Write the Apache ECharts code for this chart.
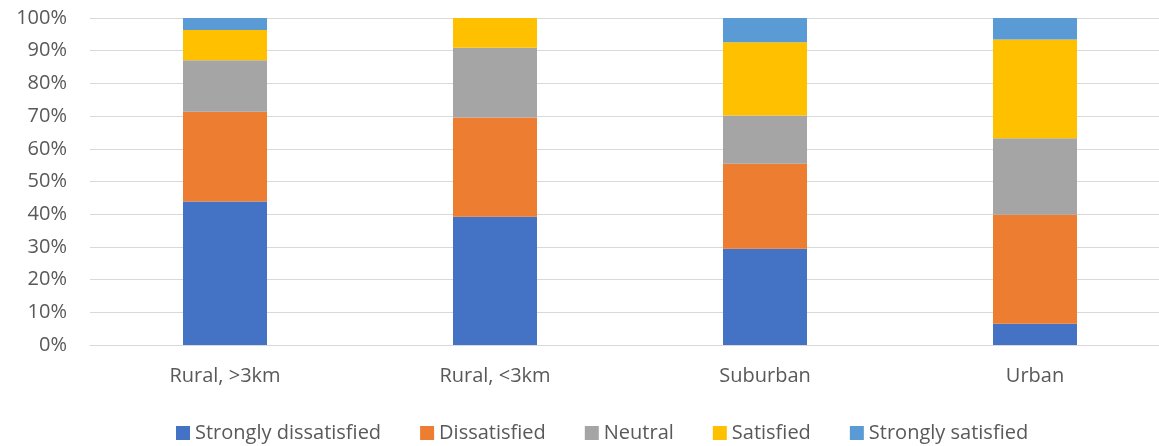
<!DOCTYPE html>
<html>
<head>
<meta charset="utf-8">
<script src="https://cdn.jsdelivr.net/npm/echarts@6/dist/echarts.min.js"></script>
<style>
html,body{margin:0;padding:0;background:#fff;overflow:hidden;}
#chart{width:1171px;height:446px;}
</style>
</head>
<body>
<div id="chart"></div>
<script>
const categories = ['Rural, >3km', 'Rural, <3km', 'Suburban', 'Urban'];
const seriesNames = ['Strongly dissatisfied', 'Dissatisfied', 'Neutral', 'Satisfied', 'Strongly satisfied'];
const stronglyDissatisfied = [43.9, 39.2, 29.4, 6.5];
const dissatisfied = [27.4, 30.4, 26.0, 33.3];
const neutral = [15.8, 21.3, 14.8, 23.4];
const satisfied = [9.2, 9.1, 22.4, 30.2];
const stronglySatisfied = [3.7, 0, 7.4, 6.6];
const colors = ['#4472C4', '#ED7D31', '#A5A5A5', '#FFC000', '#5B9BD5'];

const allData = [stronglyDissatisfied, dissatisfied, neutral, satisfied, stronglySatisfied];
const font = '"Open Sans", "Noto Sans", sans-serif';

const chart = echarts.init(document.getElementById('chart'));
chart.setOption({
  animation: false,
  color: colors,
  grid: { left: 90, top: 18, width: 1080, bottom: 101, containLabel: false },
  legend: {
    bottom: -2,
    left: 171,
    itemWidth: 14,
    itemHeight: 14,
    itemGap: 39,
    icon: 'rect',
    textStyle: { color: '#595959', fontSize: 20, fontFamily: font },
    data: seriesNames
  },
  xAxis: {
    type: 'category',
    data: categories,
    axisLine: { lineStyle: { color: '#d9d9d9', width: 1 } },
    axisTick: { show: false },
    axisLabel: { color: '#595959', fontSize: 20, fontFamily: font, margin: 21 }
  },
  yAxis: {
    type: 'value',
    min: 0,
    max: 100,
    interval: 10,
    axisLine: { show: false },
    axisTick: { show: false },
    splitLine: { lineStyle: { color: '#d9d9d9', width: 1 } },
    axisLabel: { color: '#595959', fontSize: 20, fontFamily: font, margin: 23, formatter: '{value}%' }
  },
  series: seriesNames.map((name, i) => ({
    name: name,
    type: 'bar',
    stack: 'total',
    barWidth: 84,
    data: allData[i],
    itemStyle: { color: colors[i] }
  }))
});
</script>
</body>
</html>
